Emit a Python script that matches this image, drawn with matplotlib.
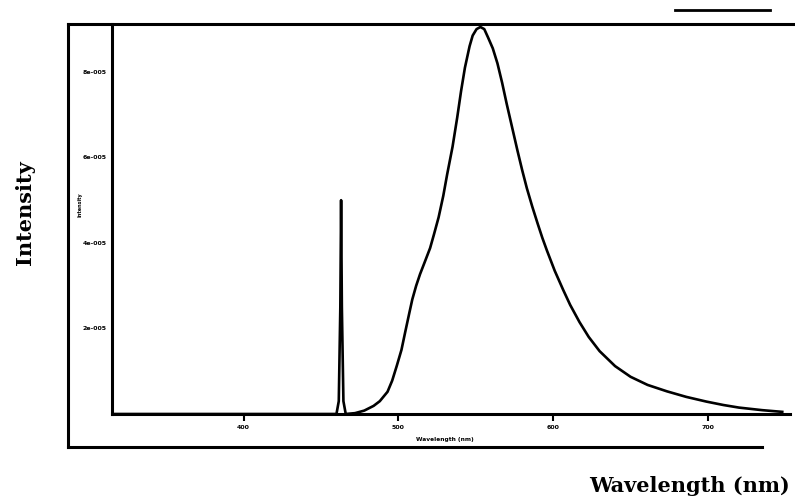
import numpy as np
import matplotlib
matplotlib.use("Agg")
import matplotlib.pyplot as plt
from matplotlib.lines import Line2D

# spectrum (wavelength in nm, intensity in units of 1e-5)
wavelength = [315, 400, 455, 460, 461.5, 462.5, 463, 463.5, 464.5, 466,
              472, 478, 484, 488, 493, 496, 499, 502, 504.5, 507,
              509, 511.5, 514, 517, 520.5, 523, 526, 529, 531.5, 535,
              538, 540.5, 543, 546, 548, 550.5, 553, 555.5, 558, 561,
              564, 567, 570, 573.5, 577, 580, 583, 586.5, 590, 593,
              596, 601, 606.5, 611, 617, 623, 630, 640, 650, 661,
              673.5, 686, 699, 710, 720, 735, 748]
intensity = [0, 0, 0, 0, 0.3, 2.5, 5.0, 2.5, 0.3, 0.0,
             0.02, 0.08, 0.19, 0.3, 0.52, 0.78, 1.13, 1.5, 1.93, 2.35,
             2.68, 3.0, 3.27, 3.55, 3.88, 4.2, 4.6, 5.1, 5.6, 6.25,
             6.93, 7.55, 8.1, 8.6, 8.85, 9.0, 9.05, 9.0, 8.8, 8.55,
             8.2, 7.75, 7.25, 6.7, 6.15, 5.7, 5.28, 4.85, 4.45, 4.12,
             3.82, 3.35, 2.9, 2.55, 2.15, 1.8, 1.47, 1.12, 0.87, 0.68,
             0.53, 0.4, 0.29, 0.21, 0.15, 0.09, 0.05]

xticks = [400, 500, 600, 700]
yticks = [2e-5, 4e-5, 6e-5, 8e-5]
ytick_labels = ['2e-005', '4e-005', '6e-005', '8e-005']

W, H = 795, 504
fig = plt.figure(figsize=(W / 100, H / 100), dpi=100)

def fx(px):
    return px / W

def fy(py):
    return 1 - py / H

ax = fig.add_axes([fx(112), fy(414), fx(790) - fx(112), fy(24) - fy(414)])

ax.plot(wavelength, np.array(intensity) * 1e-5, color='black', lw=1.9,
        solid_joinstyle='round')

ax.set_xlim(315, 753)
ax.set_ylim(0, 9.12e-5)

ax.set_xticks(xticks)
ax.set_xticklabels([str(t) for t in xticks], fontsize=4.5, fontweight='bold')
ax.set_yticks(yticks)
ax.set_yticklabels(ytick_labels, fontsize=4.5, fontweight='bold')
ax.tick_params(axis='x', direction='out', length=5, width=1.5, pad=3)
ax.tick_params(axis='y', length=0, pad=4)

for s in ['top', 'right']:
    ax.spines[s].set_visible(False)
for s in ['left', 'bottom']:
    ax.spines[s].set_linewidth(2.2)

# small inner labels from the original plot
fig.text(fx(80), fy(205), 'Intensity', rotation=90, fontsize=3.5,
         fontweight='bold', ha='center', va='center')
fig.text(fx(445), fy(440), 'Wavelength (nm)', fontsize=4.2,
         fontweight='bold', ha='center', va='center')

# outer frame of the figure
lw = 2.2
fig.add_artist(Line2D([fx(68), fx(795)], [fy(24), fy(24)], color='black', lw=lw))
fig.add_artist(Line2D([fx(68), fx(68)], [fy(24), fy(447)], color='black', lw=lw))
fig.add_artist(Line2D([fx(68), fx(762)], [fy(447), fy(447)], color='black', lw=lw))
fig.add_artist(Line2D([fx(675), fx(770)], [fy(10), fy(10)], color='black', lw=2))

# big outer axis labels
fig.text(fx(25), fy(213), 'Intensity', rotation=90, fontsize=15,
         fontweight='bold', family='DejaVu Serif', ha='center', va='center')
fig.text(fx(790), fy(486), 'Wavelength (nm)', fontsize=15,
         fontweight='bold', family='DejaVu Serif', ha='right', va='center')

fig.savefig('out.png', dpi=100)
